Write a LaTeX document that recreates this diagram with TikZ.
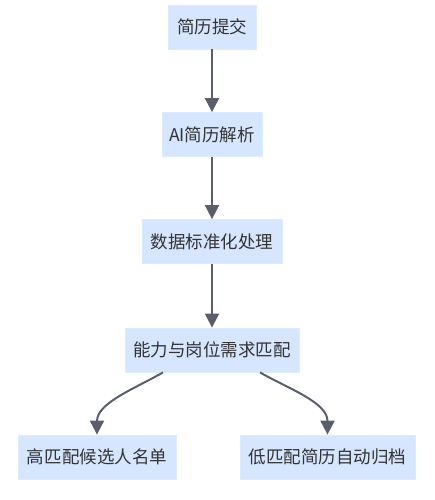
\documentclass[tikz,border=0pt]{standalone}
\usepackage{fontspec}
\setmainfont{Noto Sans CJK SC}
\usetikzlibrary{arrows.meta,calc}
\definecolor{boxfill}{HTML}{D6E6FE}
\definecolor{boxline}{HTML}{DDEBFF}
\definecolor{txt}{HTML}{333333}
\definecolor{edge}{HTML}{595F6A}
\begin{document}
\begin{tikzpicture}[x=1pt,y=-1pt,
  box/.style={draw=boxline,line width=0.8pt,fill=boxfill,text=txt,minimum height=44pt,inner sep=0pt,
    font=\fontsize{17.5pt}{19pt}\selectfont},
  flow/.style={draw=edge,line width=2pt,-{Triangle[length=14pt,width=14pt]}}]
\useasboundingbox (0,0) rectangle (434,500);
\node[box,minimum width=88pt]  (n1) at (212,27)    {简历提交};
\node[box,minimum width=100pt] (n2) at (212,134.5) {AI简历解析};
\node[box,minimum width=140pt] (n3) at (212,241.5) {数据标准化处理};
\node[box,minimum width=174pt] (n4) at (212,350)   {能力与岗位需求匹配};
\node[box,minimum width=158pt] (n5) at (97,457)    {高匹配候选人名单};
\node[box,minimum width=175pt] (n6) at (327.5,457) {低匹配简历自动归档};
\coordinate (s5) at ($(n4.south)+(-49pt,0)$);
\coordinate (s6) at ($(n4.south)+(48pt,0)$);
\draw[flow] (n1) -- (n2);
\draw[flow] (n2) -- (n3);
\draw[flow] (n3) -- (n4);
\draw[flow] (s5) to[out=-150,in=90,looseness=0.9] (n5.north);
\draw[flow] (s6) to[out=-30,in=90,looseness=0.9] (n6.north);
\end{tikzpicture}
\end{document}
